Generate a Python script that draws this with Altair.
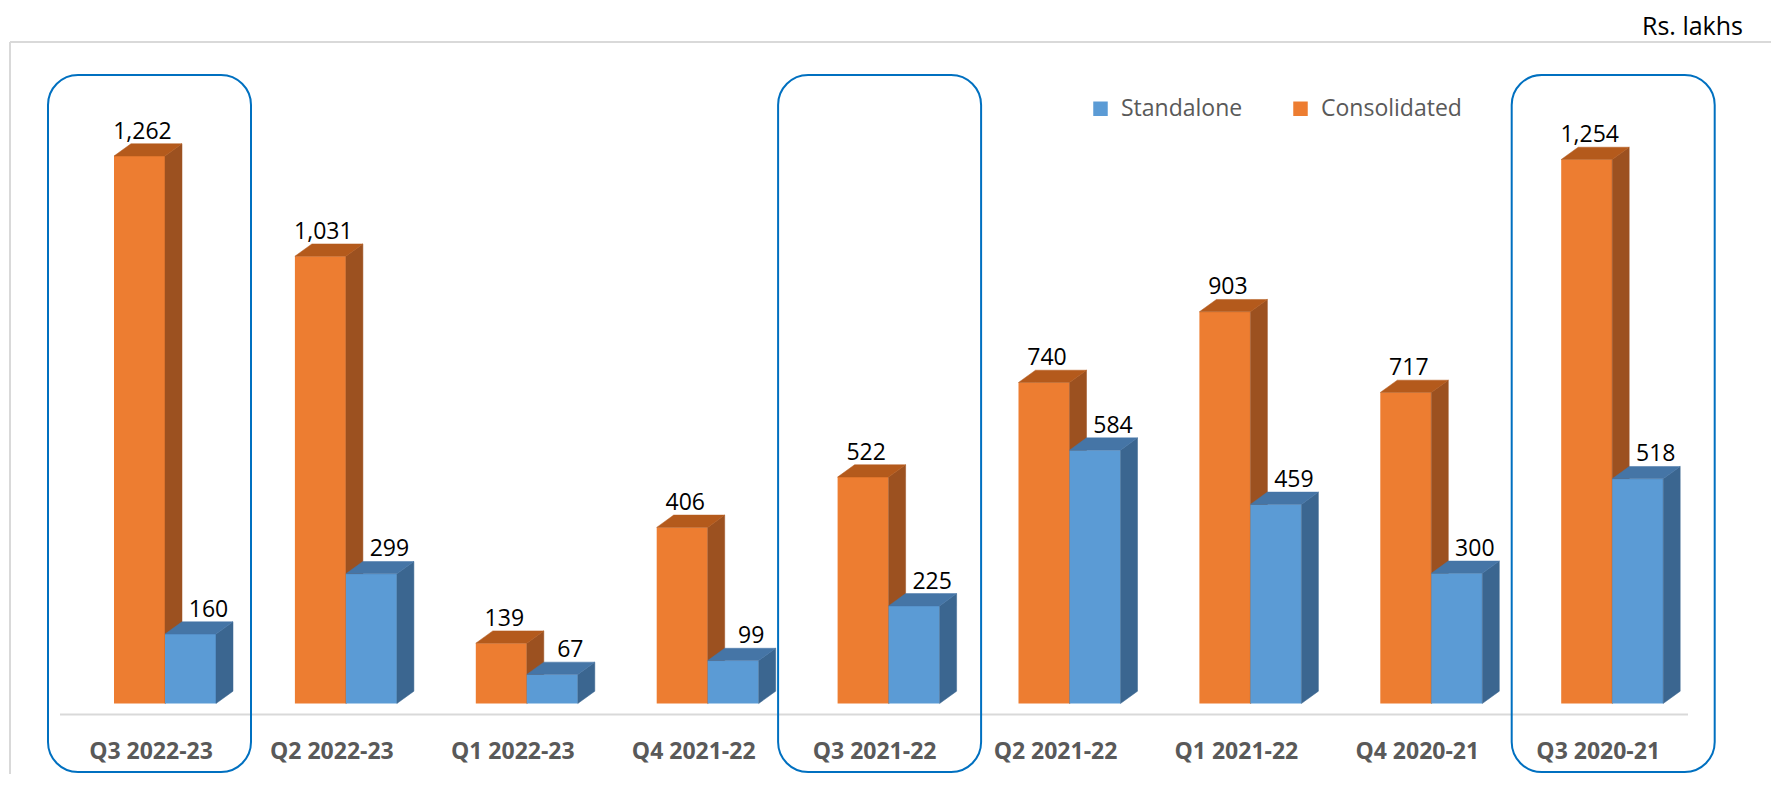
import altair as alt
import pandas as pd

# ---------------- data ----------------
CATEGORIES = ["Q3 2022-23", "Q2 2022-23", "Q1 2022-23", "Q4 2021-22", "Q3 2021-22",
              "Q2 2021-22", "Q1 2021-22", "Q4 2020-21", "Q3 2020-21"]
CONSOLIDATED = [1262, 1031, 139, 406, 522, 740, 903, 717, 1254]
STANDALONE = [160, 299, 67, 99, 225, 584, 459, 300, 518]
SERIES = ["Standalone", "Consolidated"]
HIGHLIGHTED = ["Q3 2022-23", "Q3 2021-22", "Q3 2020-21"]
UNIT_LABEL = "Rs. lakhs"

# ---------------- style ----------------
TOP_PAD = 8
W, H = 1763, 758
PITCH = 180.9          # px per category
PX_PER_UNIT = 0.4338   # px per value unit
X_FIRST = 157.0        # px of first category centre
Y_ZERO = 695.5 - TOP_PAD  # px of value 0
BAR_W = 51 / PITCH
DX = 17 / PITCH
DY = 12.3 / PX_PER_UNIT
LABEL_SHIFT = {"Consolidated": 3 / PITCH, "Standalone": 18 / PITCH}
CAT_LABEL_SHIFT = -14 / PITCH
BOX_SHIFT_PX = [-15.5, -9, 1]
BOX_HALF = 101.5 / PITCH

ORANGE, ORANGE_SIDE, ORANGE_TOP = "#ED7D31", "#9C5120", "#B45A1C"
BLUE, BLUE_SIDE, BLUE_TOP = "#5B9BD5", "#3B6690", "#4575A6"
COLORS = {"Consolidated": (ORANGE, ORANGE_SIDE, ORANGE_TOP),
          "Standalone": (BLUE, BLUE_SIDE, BLUE_TOP)}
GRID = "#D9D9D9"
FONT = "Open Sans"

x0 = -X_FIRST / PITCH
XS = alt.Scale(domain=[x0, x0 + W / PITCH], nice=False, zero=False)
y0 = -(H - Y_ZERO) / PX_PER_UNIT
YS = alt.Scale(domain=[y0, y0 + H / PX_PER_UNIT], nice=False, zero=False)

# ---------------- geometry tables built from data ----------------
front, side, top, labels = [], [], [], []
for s, vals, left in [("Consolidated", CONSOLIDATED, -BAR_W), ("Standalone", STANDALONE, 0.0)]:
    for i, (cat, v) in enumerate(zip(CATEGORIES, vals)):
        xl = i + left
        xr = xl + BAR_W
        bid = f"{s}-{i}"
        front.append(dict(series=s, cat=cat, xl=xl, xr=xr, v=v, base=0))
        side += [dict(series=s, bid=bid, k=0, x=xr, lo=0, hi=v),
                 dict(series=s, bid=bid, k=1, x=xr + DX, lo=DY, hi=v + DY)]
        top += [dict(series=s, bid=bid, k=0, x=xl, lo=v, hi=v),
                dict(series=s, bid=bid, k=1, x=xl + DX, lo=v, hi=v + DY),
                dict(series=s, bid=bid, k=2, x=xr, lo=v, hi=v + DY),
                dict(series=s, bid=bid, k=3, x=xr + DX, lo=v + DY, hi=v + DY)]
        labels.append(dict(series=s, x=(xl + xr) / 2 + LABEL_SHIFT[s], y=v + DY, v=v))

front = pd.DataFrame(front)
side = pd.DataFrame(side)
top = pd.DataFrame(top)
labels = pd.DataFrame(labels)
cats = pd.DataFrame({"cat": CATEGORIES, "x": [i + CAT_LABEL_SHIFT for i in range(len(CATEGORIES))]})
boxes = pd.DataFrame({
    "cat": HIGHLIGHTED,
    "xa": [CATEGORIES.index(c) + sh / PITCH - BOX_HALF for c, sh in zip(HIGHLIGHTED, BOX_SHIFT_PX)],
    "xb": [CATEGORIES.index(c) + sh / PITCH + BOX_HALF for c, sh in zip(HIGHLIGHTED, BOX_SHIFT_PX)],
})
one = pd.DataFrame({"t": [UNIT_LABEL]})

color_enc = alt.Color(
    "series:N",
    scale=alt.Scale(domain=SERIES, range=[BLUE, ORANGE]),
    legend=alt.Legend(orient="none", legendX=1081, legendY=89 - TOP_PAD, direction="horizontal",
                      title=None, symbolType="square", symbolSize=210, symbolStrokeWidth=0,
                      labelFontSize=23, labelFont=FONT, labelColor="#595959",
                      labelOffset=9, columnPadding=46),
)

layers = []
# frame
layers.append(alt.Chart(one).mark_rule(color=GRID, strokeWidth=2).encode(
    x=alt.value(2), x2=alt.value(W), y=alt.value(34 - TOP_PAD)))
layers.append(alt.Chart(one).mark_rule(color=GRID, strokeWidth=2).encode(
    x=alt.value(2), y=alt.value(34 - TOP_PAD), y2=alt.value(H)))
# category axis line
layers.append(alt.Chart(one).mark_rule(color=GRID, strokeWidth=2).encode(
    x=alt.value(52), x2=alt.value(1680), y=alt.value(706.5 - TOP_PAD)))

for s in ["Consolidated", "Standalone"]:
    c_front, c_side, c_top = COLORS[s]
    layers.append(alt.Chart(front[front.series == s]).mark_rect(strokeWidth=0).encode(
        x=alt.X("xl:Q", scale=XS, axis=None), x2="xr:Q",
        y=alt.Y("v:Q", scale=YS, axis=None), y2="base:Q",
        color=color_enc))
    for tbl, col in [(side, c_side), (top, c_top)]:
        layers.append(alt.Chart(tbl[tbl.series == s]).mark_area(
            orient="vertical", color=col, fill=col, stroke=col, strokeWidth=0.5, opacity=1).encode(
            x=alt.X("x:Q", scale=XS, axis=None),
            y=alt.Y("hi:Q", scale=YS, axis=None, stack=False),
            y2=alt.Y2("lo:Q"),
            detail=alt.Detail("bid:N")))

# value labels
layers.append(alt.Chart(labels).mark_text(font=FONT, fontSize=23, color="#000000",
                                          baseline="alphabetic", align="center", dy=-5).encode(
    x=alt.X("x:Q", scale=XS, axis=None), y=alt.Y("y:Q", scale=YS, axis=None),
    text=alt.Text("v:Q", format=",")))

# category labels
layers.append(alt.Chart(cats).mark_text(font=FONT, fontSize=23, fontWeight="bold", color="#595959",
                                        baseline="alphabetic", align="center").encode(
    x=alt.X("x:Q", scale=XS, axis=None), y=alt.value(751 - TOP_PAD), text="cat:N"))

# highlight boxes
layers.append(alt.Chart(boxes).mark_rect(fill=None, fillOpacity=0, stroke="#0070C0", strokeWidth=2,
                                         cornerRadius=30).encode(
    x=alt.X("xa:Q", scale=XS, axis=None), x2="xb:Q",
    y=alt.value(67 - TOP_PAD), y2=alt.value(764 - TOP_PAD)))

# unit label
layers.append(alt.Chart(one).mark_text(font=FONT, fontSize=25, color="#000000",
                                       align="right", baseline="alphabetic").encode(
    x=alt.value(1735), y=alt.value(27 - TOP_PAD), text="t:N"))

chart = alt.layer(*layers).properties(
    width=W, height=H,
    padding={"left": 0, "top": TOP_PAD, "right": 0, "bottom": 0},
    autosize=alt.AutoSizeParams(type="none"),
    background="white",
).configure_view(strokeWidth=0)

chart.save("out.html", embed_options={"renderer": "svg", "actions": False})
